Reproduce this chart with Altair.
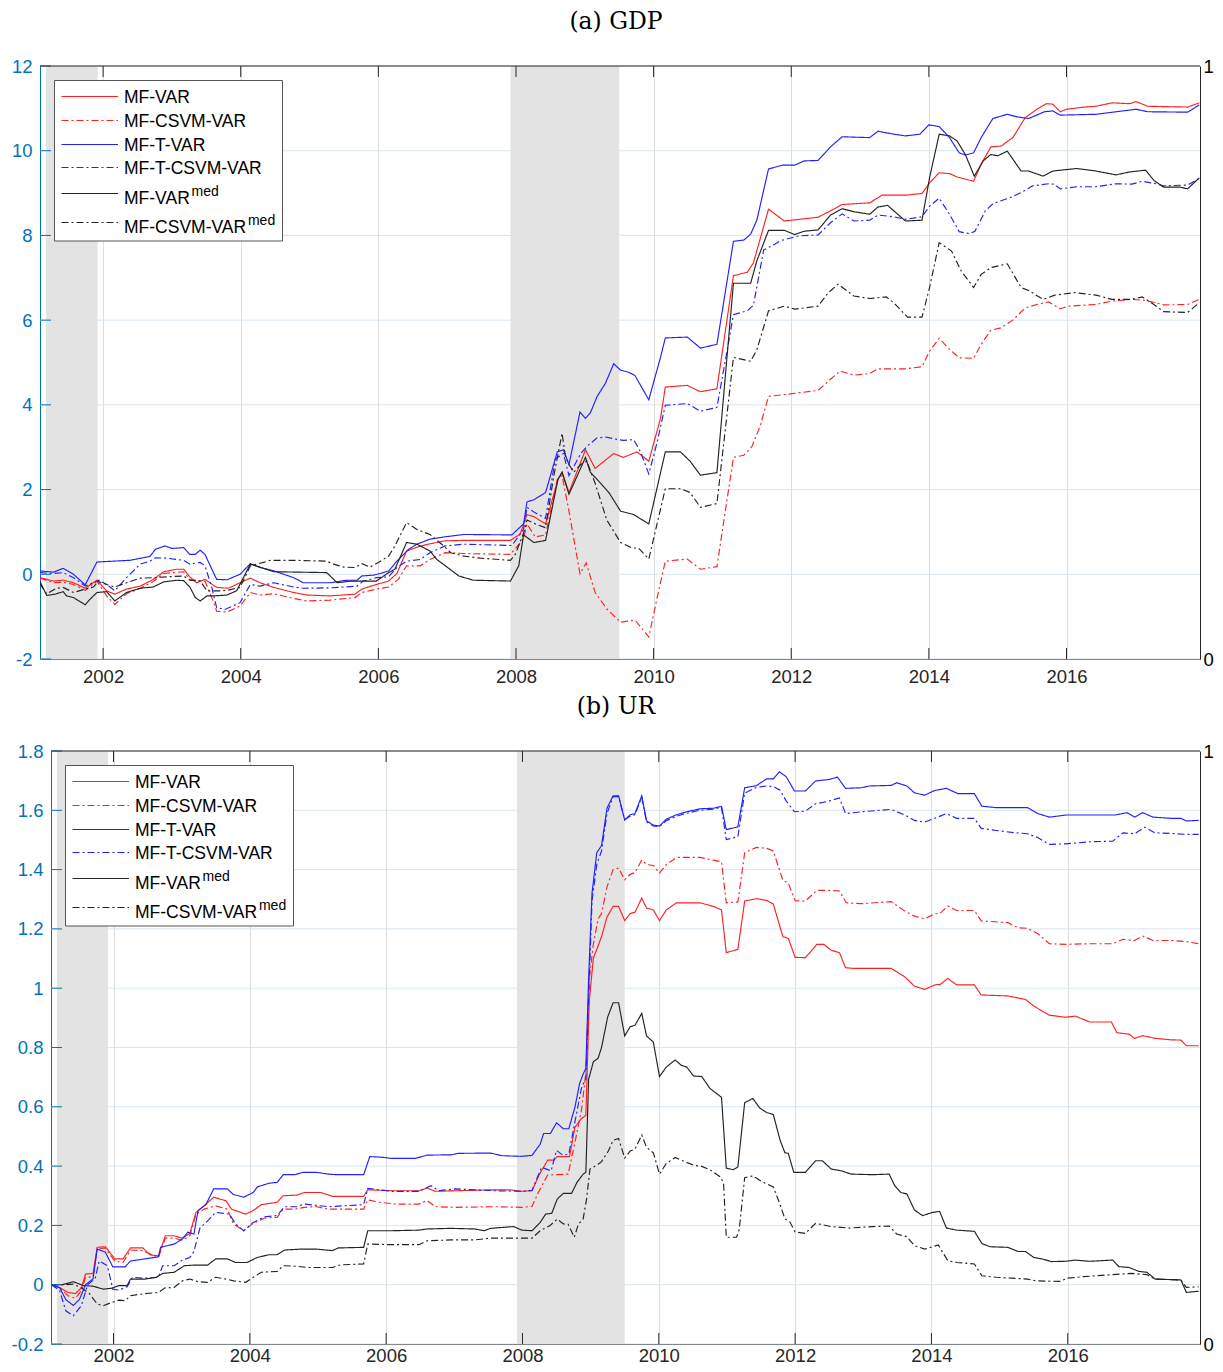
import altair as alt
import pandas as pd

# ---------------- data ----------------
SERIES = ["MF-VAR", "MF-CSVM-VAR", "MF-T-VAR", "MF-T-CSVM-VAR", "MF-VARmed", "MF-CSVM-VARmed"]
LEG_BASE = ["MF-VAR", "MF-CSVM-VAR", "MF-T-VAR", "MF-T-CSVM-VAR", "MF-VAR", "MF-CSVM-VAR"]
LEG_SUP = ["", "", "", "", "med", "med"]
TITLES = ["(a) GDP", "(b) UR"]

YEAR_TICKS = [2002, 2004, 2006, 2008, 2010, 2012, 2014, 2016]
REC_START = [2001.17, 2007.92]
REC_END = [2001.92, 2009.50]
X_DOMAIN = [2001.083, 2017.94]

GDP_TICKS = [-2, 0, 2, 4, 6, 8, 10, 12]
UR_TICKS = [-0.2, 0, 0.2, 0.4, 0.6, 0.8, 1, 1.2, 1.4, 1.6, 1.8]
RIGHT_TICKS = [0, 1]

GDP_MF_VAR = [(2001.08,-0.08),(2001.28,-0.16),(2001.42,-0.14),(2001.57,-0.2),(2001.74,-0.33),(2001.91,-0.14),(2002.05,-0.39),(2002.17,-0.47),(2002.34,-0.35),(2002.54,-0.28),(2002.73,-0.12),(2002.88,0.06),(2003.07,0.12),(2003.17,0.12),(2003.26,-0.06),(2003.36,-0.2),(2003.48,-0.12),(2003.65,-0.31),(2003.82,-0.33),(2003.99,-0.2),(2004.14,-0.09),(2004.28,-0.2),(2004.48,-0.31),(2004.77,-0.43),(2004.96,-0.49),(2005.30,-0.51),(2005.66,-0.47),(2005.76,-0.35),(2005.97,-0.24),(2006.15,-0.16),(2006.27,0.02),(2006.41,0.55),(2006.58,0.65),(2006.75,0.72),(2006.97,0.79),(2007.24,0.80),(2007.92,0.80),(2008.06,0.95),(2008.16,1.41),(2008.26,1.36),(2008.43,1.19),(2008.61,2.24),(2008.67,2.41),(2008.77,1.93),(2009.01,2.94),(2009.15,2.50),(2009.42,2.85),(2009.56,2.76),(2009.76,2.89),(2009.93,2.67),(2010.10,3.68),(2010.17,4.42),(2010.49,4.46),(2010.68,4.31),(2010.92,4.38),(2011.16,7.05),(2011.36,7.13),(2011.45,7.35),(2011.67,8.62),(2011.90,8.34),(2012.39,8.43),(2012.57,8.58),(2012.74,8.73),(2013.14,8.77),(2013.32,8.95),(2013.66,8.95),(2013.90,8.99),(2014.01,9.24),(2014.15,9.48),(2014.30,9.46),(2014.41,9.38),(2014.65,9.28),(2014.76,9.68),(2014.90,10.09),(2015.05,10.11),(2015.22,10.31),(2015.40,10.78),(2015.57,10.98),(2015.71,11.11),(2015.80,11.10),(2015.91,10.92),(2016.00,10.98),(2016.26,11.03),(2016.43,11.05),(2016.66,11.13),(2016.92,11.11),(2017.01,11.16),(2017.18,11.05),(2017.76,11.03),(2017.93,11.13)]

GDP_MF_CSVM_VAR = [(2001.08,-0.09),(2001.28,-0.2),(2001.42,-0.19),(2001.57,-0.24),(2001.74,-0.38),(2001.91,-0.16),(2002.05,-0.51),(2002.17,-0.71),(2002.34,-0.46),(2002.54,-0.33),(2002.73,-0.17),(2002.88,0.02),(2003.17,0.06),(2003.26,-0.12),(2003.41,-0.16),(2003.48,-0.16),(2003.58,-0.55),(2003.65,-0.87),(2003.80,-0.89),(2003.99,-0.75),(2004.14,-0.43),(2004.28,-0.49),(2004.48,-0.46),(2004.77,-0.57),(2004.96,-0.63),(2005.30,-0.61),(2005.66,-0.55),(2005.76,-0.43),(2005.97,-0.35),(2006.15,-0.30),(2006.29,-0.12),(2006.41,0.2),(2006.61,0.2),(2006.75,0.35),(2006.97,0.51),(2007.24,0.49),(2007.92,0.47),(2008.11,0.84),(2008.16,1.19),(2008.28,0.88),(2008.43,0.93),(2008.60,2.24),(2008.67,2.33),(2008.77,1.49),(2008.84,0.84),(2008.93,0.01),(2009.02,0.27),(2009.15,-0.43),(2009.32,-0.82),(2009.52,-1.13),(2009.73,-1.08),(2009.93,-1.48),(2010.05,-0.56),(2010.17,0.31),(2010.49,0.36),(2010.68,0.12),(2010.92,0.18),(2011.16,2.76),(2011.31,2.81),(2011.43,3.02),(2011.55,3.51),(2011.67,4.20),(2011.99,4.26),(2012.39,4.34),(2012.54,4.56),(2012.71,4.80),(2012.91,4.70),(2013.14,4.74),(2013.26,4.85),(2013.66,4.85),(2013.90,4.90),(2014.01,5.27),(2014.15,5.57),(2014.30,5.31),(2014.44,5.11),(2014.65,5.10),(2014.76,5.43),(2014.90,5.76),(2015.05,5.82),(2015.22,6.00),(2015.40,6.29),(2015.57,6.37),(2015.74,6.43),(2015.91,6.27),(2016.03,6.33),(2016.43,6.37),(2016.66,6.45),(2016.95,6.49),(2017.12,6.47),(2017.30,6.41),(2017.41,6.36),(2017.76,6.37),(2017.93,6.49)]

GDP_MF_T_VAR = [(2001.08,0.08),(2001.28,0.05),(2001.42,0.14),(2001.57,0.0),(2001.74,-0.25),(2001.91,0.29),(2002.39,0.33),(2002.68,0.42),(2002.76,0.59),(2002.90,0.67),(2003.00,0.61),(2003.17,0.63),(2003.26,0.47),(2003.34,0.47),(2003.41,0.57),(2003.48,0.47),(2003.65,-0.12),(2003.80,-0.13),(2003.99,0.0),(2004.14,0.25),(2004.28,0.16),(2004.48,0.08),(2004.77,-0.08),(2004.91,-0.20),(2005.30,-0.20),(2005.54,-0.14),(2005.69,-0.14),(2005.76,-0.04),(2005.93,-0.02),(2006.03,0.02),(2006.15,0.08),(2006.27,0.31),(2006.44,0.59),(2006.56,0.71),(2006.75,0.83),(2006.95,0.88),(2007.24,0.94),(2007.94,0.93),(2008.11,1.19),(2008.16,1.71),(2008.26,1.76),(2008.43,1.93),(2008.60,2.89),(2008.69,2.94),(2008.77,2.59),(2008.93,3.83),(2009.01,3.68),(2009.08,3.81),(2009.18,4.20),(2009.30,4.51),(2009.42,4.97),(2009.52,4.82),(2009.64,4.77),(2009.73,4.69),(2009.93,4.12),(2010.10,5.12),(2010.17,5.58),(2010.49,5.60),(2010.68,5.34),(2010.92,5.43),(2011.16,7.86),(2011.31,7.89),(2011.41,8.03),(2011.50,8.36),(2011.67,9.57),(2011.88,9.66),(2012.05,9.66),(2012.19,9.76),(2012.39,9.77),(2012.57,10.09),(2012.74,10.33),(2012.91,10.32),(2013.14,10.31),(2013.26,10.46),(2013.49,10.39),(2013.66,10.35),(2013.87,10.39),(2014.00,10.61),(2014.15,10.57),(2014.30,10.31),(2014.44,9.95),(2014.53,9.90),(2014.65,9.95),(2014.76,10.31),(2014.93,10.76),(2015.14,10.86),(2015.28,10.80),(2015.45,10.76),(2015.68,10.92),(2015.80,10.94),(2015.91,10.84),(2016.43,10.86),(2016.72,10.92),(2017.01,10.98),(2017.18,10.92),(2017.76,10.91),(2017.93,11.08)]

GDP_MF_T_CSVM_VAR = [(2001.08,0.04),(2001.28,0.02),(2001.42,0.04),(2001.57,-0.08),(2001.74,-0.28),(2001.91,-0.16),(2002.05,-0.24),(2002.17,-0.39),(2002.34,-0.08),(2002.54,0.24),(2002.68,0.31),(2002.76,0.39),(2002.93,0.38),(2003.17,0.33),(2003.26,0.24),(2003.41,0.28),(2003.48,0.20),(2003.58,-0.31),(2003.65,-0.79),(2003.77,-0.83),(2003.99,-0.67),(2004.14,-0.24),(2004.28,-0.28),(2004.48,-0.20),(2004.77,-0.30),(2004.91,-0.33),(2005.30,-0.32),(2005.69,-0.28),(2005.78,-0.16),(2005.97,-0.08),(2006.15,-0.06),(2006.27,0.16),(2006.41,0.31),(2006.61,0.35),(2006.75,0.51),(2006.97,0.67),(2007.24,0.71),(2007.94,0.68),(2008.11,1.06),(2008.16,1.58),(2008.28,1.45),(2008.43,1.32),(2008.57,2.72),(2008.69,2.85),(2008.77,2.33),(2008.94,2.85),(2009.03,3.02),(2009.18,3.22),(2009.30,3.24),(2009.42,3.20),(2009.56,3.16),(2009.71,3.18),(2009.81,2.89),(2009.93,2.37),(2010.05,3.11),(2010.17,3.99),(2010.49,4.03),(2010.68,3.85),(2010.92,3.94),(2011.07,5.30),(2011.16,6.13),(2011.36,6.22),(2011.45,6.35),(2011.60,7.66),(2011.70,7.74),(2011.85,7.88),(2012.11,7.99),(2012.39,8.01),(2012.57,8.30),(2012.74,8.51),(2012.91,8.34),(2013.14,8.36),(2013.26,8.48),(2013.49,8.44),(2013.66,8.38),(2013.90,8.44),(2014.01,8.69),(2014.15,8.88),(2014.30,8.50),(2014.44,8.09),(2014.59,8.04),(2014.67,8.10),(2014.82,8.58),(2014.93,8.75),(2015.16,8.88),(2015.34,9.01),(2015.51,9.17),(2015.74,9.22),(2015.82,9.21),(2015.91,9.10),(2016.15,9.15),(2016.43,9.15),(2016.72,9.22),(2016.95,9.21),(2017.10,9.28),(2017.30,9.22),(2017.41,9.17),(2017.76,9.19),(2017.93,9.35)]

GDP_MF_VAR_MED = [(2001.08,-0.16),(2001.18,-0.50),(2001.30,-0.47),(2001.42,-0.41),(2001.47,-0.51),(2001.57,-0.55),(2001.74,-0.72),(2001.81,-0.59),(2001.91,-0.43),(2002.05,-0.41),(2002.17,-0.63),(2002.34,-0.43),(2002.54,-0.33),(2002.73,-0.30),(2002.88,-0.18),(2003.07,-0.14),(2003.17,-0.15),(2003.26,-0.30),(2003.34,-0.55),(2003.41,-0.63),(2003.51,-0.51),(2003.61,-0.51),(2003.80,-0.49),(2003.94,-0.39),(2004.14,0.24),(2004.28,0.17),(2004.48,0.06),(2005.25,0.04),(2005.40,-0.20),(2005.60,-0.16),(2005.97,-0.16),(2006.15,0.04),(2006.24,0.12),(2006.41,0.75),(2006.56,0.71),(2006.75,0.55),(2006.85,0.35),(2007.17,-0.04),(2007.38,-0.14),(2007.92,-0.16),(2008.04,0.20),(2008.11,0.93),(2008.26,0.75),(2008.43,0.80),(2008.61,2.24),(2008.67,2.41),(2008.77,1.89),(2009.01,2.76),(2009.08,2.41),(2009.23,2.15),(2009.35,1.93),(2009.52,1.49),(2009.71,1.41),(2009.93,1.19),(2010.17,2.89),(2010.39,2.89),(2010.53,2.67),(2010.68,2.34),(2010.92,2.40),(2011.16,6.87),(2011.41,6.87),(2011.50,7.40),(2011.67,8.12),(2011.90,8.12),(2012.05,8.02),(2012.19,8.10),(2012.39,8.13),(2012.57,8.48),(2012.74,8.63),(2012.91,8.56),(2013.14,8.50),(2013.26,8.67),(2013.40,8.71),(2013.66,8.34),(2013.90,8.36),(2014.01,9.36),(2014.15,10.39),(2014.30,10.35),(2014.41,10.23),(2014.53,9.91),(2014.66,9.40),(2014.79,9.76),(2014.90,9.91),(2015.00,9.88),(2015.14,9.99),(2015.34,9.52),(2015.45,9.52),(2015.66,9.40),(2015.80,9.52),(2016.03,9.56),(2016.15,9.58),(2016.43,9.52),(2016.72,9.43),(2016.92,9.50),(2017.15,9.54),(2017.27,9.30),(2017.41,9.14),(2017.65,9.14),(2017.76,9.10),(2017.93,9.36)]

GDP_MF_CSVM_VAR_MED = [(2001.08,-0.22),(2001.18,-0.46),(2001.32,-0.33),(2001.42,-0.31),(2001.57,-0.43),(2001.74,-0.35),(2001.86,-0.30),(2001.94,-0.14),(2002.05,-0.24),(2002.17,-0.30),(2002.34,-0.20),(2002.54,-0.09),(2002.73,-0.08),(2002.93,-0.06),(2003.17,-0.04),(2003.26,-0.14),(2003.41,-0.16),(2003.51,-0.39),(2003.70,-0.39),(2003.80,-0.38),(2003.99,-0.31),(2004.14,0.20),(2004.33,0.28),(2004.43,0.33),(2004.77,0.33),(2005.25,0.31),(2005.35,0.24),(2005.50,0.17),(2005.66,0.16),(2005.76,0.25),(2005.88,0.17),(2006.00,0.28),(2006.15,0.43),(2006.24,0.67),(2006.41,1.22),(2006.56,1.06),(2006.75,0.94),(2006.95,0.67),(2007.05,0.51),(2007.24,0.43),(2007.48,0.38),(2007.92,0.33),(2007.99,0.47),(2008.11,0.97),(2008.16,1.28),(2008.28,1.19),(2008.43,1.10),(2008.55,2.33),(2008.67,3.33),(2008.72,2.76),(2008.77,2.59),(2008.84,2.41),(2008.94,2.59),(2009.03,2.67),(2009.15,2.15),(2009.32,1.28),(2009.52,0.75),(2009.69,0.62),(2009.78,0.62),(2009.93,0.36),(2010.17,2.02),(2010.39,2.02),(2010.53,1.93),(2010.68,1.58),(2010.92,1.67),(2011.16,5.12),(2011.41,5.03),(2011.50,5.30),(2011.67,6.22),(2011.90,6.33),(2012.05,6.26),(2012.39,6.33),(2012.54,6.65),(2012.68,6.85),(2012.91,6.57),(2013.14,6.51),(2013.38,6.55),(2013.49,6.41),(2013.69,6.07),(2013.90,6.07),(2014.01,6.77),(2014.15,7.83),(2014.33,7.63),(2014.47,7.16),(2014.65,6.77),(2014.76,7.08),(2014.90,7.24),(2015.14,7.33),(2015.34,6.77),(2015.45,6.70),(2015.66,6.49),(2015.83,6.59),(2016.12,6.65),(2016.43,6.59),(2016.66,6.49),(2016.95,6.49),(2017.10,6.55),(2017.27,6.37),(2017.41,6.20),(2017.76,6.18),(2017.93,6.41)]

UR_MF_VAR = [(2001.09,0.0),(2001.21,-0.01),(2001.33,-0.026),(2001.44,-0.03),(2001.53,-0.01),(2001.59,0.036),(2001.70,0.038),(2001.76,0.126),(2001.88,0.128),(2002.02,0.087),(2002.14,0.087),(2002.25,0.124),(2002.43,0.124),(2002.54,0.10),(2002.66,0.098),(2002.76,0.165),(2002.89,0.165),(2003.01,0.157),(2003.12,0.173),(2003.21,0.244),(2003.33,0.266),(2003.47,0.295),(2003.65,0.283),(2003.73,0.255),(2003.94,0.238),(2004.05,0.25),(2004.17,0.27),(2004.40,0.278),(2004.49,0.30),(2004.69,0.302),(2004.80,0.311),(2005.04,0.311),(2005.21,0.298),(2005.67,0.298),(2005.73,0.32),(2006.08,0.317),(2006.48,0.317),(2006.60,0.326),(2006.72,0.315),(2007.53,0.32),(2007.82,0.32),(2007.99,0.315),(2008.14,0.317),(2008.25,0.373),(2008.37,0.42),(2008.46,0.42),(2008.51,0.432),(2008.69,0.432),(2008.77,0.531),(2008.86,0.559),(2008.93,0.571),(2008.98,0.957),(2009.04,1.101),(2009.09,1.131),(2009.16,1.174),(2009.24,1.24),(2009.33,1.276),(2009.41,1.276),(2009.50,1.228),(2009.58,1.252),(2009.65,1.256),(2009.75,1.304),(2009.82,1.27),(2009.92,1.264),(2010.01,1.228),(2010.11,1.264),(2010.26,1.288),(2010.60,1.288),(2010.80,1.276),(2010.92,1.264),(2010.99,1.12),(2011.16,1.131),(2011.26,1.294),(2011.43,1.302),(2011.58,1.296),(2011.68,1.284),(2011.82,1.174),(2011.90,1.168),(2012.00,1.104),(2012.15,1.103),(2012.32,1.148),(2012.42,1.148),(2012.53,1.128),(2012.65,1.12),(2012.74,1.069),(2012.85,1.067),(2013.41,1.067),(2013.61,1.038),(2013.75,1.007),(2013.90,0.996),(2014.05,1.011),(2014.13,1.013),(2014.24,1.033),(2014.37,1.011),(2014.63,1.011),(2014.73,0.977),(2015.12,0.974),(2015.38,0.962),(2015.50,0.94),(2015.73,0.909),(2015.97,0.902),(2016.11,0.906),(2016.32,0.886),(2016.64,0.886),(2016.72,0.85),(2016.90,0.845),(2016.98,0.831),(2017.10,0.84),(2017.28,0.831),(2017.51,0.826),(2017.66,0.825),(2017.74,0.806),(2017.92,0.806)]

UR_MF_CSVM_VAR = [(2001.09,0.0),(2001.21,-0.01),(2001.33,-0.037),(2001.44,-0.046),(2001.53,-0.02),(2001.59,0.025),(2001.70,0.026),(2001.76,0.12),(2001.88,0.124),(2002.02,0.079),(2002.14,0.075),(2002.25,0.117),(2002.43,0.115),(2002.66,0.092),(2002.76,0.157),(2002.89,0.157),(2003.01,0.15),(2003.12,0.165),(2003.21,0.238),(2003.33,0.255),(2003.50,0.266),(2003.67,0.255),(2003.76,0.205),(2003.91,0.182),(2004.05,0.207),(2004.22,0.225),(2004.40,0.227),(2004.49,0.255),(2004.66,0.255),(2004.80,0.261),(2004.98,0.263),(2005.15,0.255),(2005.67,0.255),(2005.73,0.286),(2005.90,0.278),(2006.14,0.272),(2006.48,0.272),(2006.60,0.284),(2006.72,0.263),(2007.01,0.261),(2007.59,0.263),(2007.99,0.261),(2008.14,0.264),(2008.23,0.31),(2008.37,0.37),(2008.67,0.373),(2008.77,0.48),(2008.87,0.595),(2008.93,0.716),(2008.98,1.029),(2009.04,1.149),(2009.11,1.234),(2009.16,1.252),(2009.24,1.342),(2009.33,1.40),(2009.41,1.405),(2009.50,1.366),(2009.58,1.384),(2009.65,1.39),(2009.75,1.432),(2009.82,1.417),(2009.92,1.414),(2010.01,1.388),(2010.11,1.417),(2010.26,1.441),(2010.60,1.441),(2010.80,1.432),(2010.92,1.426),(2010.99,1.288),(2011.16,1.291),(2011.26,1.457),(2011.43,1.475),(2011.58,1.472),(2011.68,1.463),(2011.82,1.364),(2011.90,1.354),(2012.00,1.295),(2012.15,1.294),(2012.32,1.33),(2012.47,1.33),(2012.65,1.328),(2012.75,1.288),(2012.97,1.285),(2013.41,1.292),(2013.61,1.26),(2013.75,1.243),(2013.90,1.234),(2014.05,1.251),(2014.13,1.253),(2014.24,1.277),(2014.37,1.262),(2014.63,1.262),(2014.73,1.227),(2015.12,1.221),(2015.27,1.204),(2015.41,1.202),(2015.56,1.184),(2015.73,1.15),(2015.97,1.148),(2016.34,1.15),(2016.66,1.15),(2016.81,1.165),(2016.98,1.161),(2017.10,1.176),(2017.25,1.161),(2017.51,1.161),(2017.74,1.157),(2017.92,1.15)]

UR_MF_T_VAR = [(2001.09,0.0),(2001.21,-0.01),(2001.30,-0.05),(2001.41,-0.07),(2001.50,-0.05),(2001.59,0.0),(2001.70,0.02),(2001.76,0.12),(2001.88,0.11),(2001.99,0.06),(2002.17,0.06),(2002.25,0.08),(2002.46,0.087),(2002.66,0.094),(2002.69,0.126),(2002.89,0.137),(2003.01,0.154),(2003.09,0.177),(2003.18,0.171),(2003.24,0.25),(2003.36,0.272),(2003.47,0.323),(2003.67,0.323),(2003.76,0.304),(2003.91,0.295),(2004.05,0.311),(2004.11,0.33),(2004.28,0.342),(2004.40,0.345),(2004.49,0.371),(2004.66,0.371),(2004.78,0.379),(2004.98,0.379),(2005.15,0.373),(2005.27,0.371),(2005.67,0.371),(2005.76,0.432),(2005.93,0.43),(2006.08,0.426),(2006.43,0.426),(2006.60,0.437),(2006.95,0.438),(2007.06,0.443),(2007.53,0.444),(2007.70,0.435),(2007.99,0.433),(2008.14,0.436),(2008.26,0.474),(2008.31,0.51),(2008.41,0.51),(2008.50,0.546),(2008.60,0.526),(2008.68,0.526),(2008.77,0.599),(2008.84,0.68),(2008.89,0.71),(2008.93,0.73),(2008.97,1.03),(2009.02,1.32),(2009.09,1.457),(2009.16,1.481),(2009.24,1.607),(2009.33,1.649),(2009.41,1.649),(2009.50,1.567),(2009.58,1.585),(2009.65,1.589),(2009.75,1.649),(2009.82,1.565),(2009.92,1.55),(2010.01,1.547),(2010.11,1.57),(2010.26,1.585),(2010.41,1.595),(2010.60,1.605),(2010.80,1.607),(2010.92,1.613),(2010.99,1.535),(2011.16,1.544),(2011.26,1.676),(2011.43,1.683),(2011.58,1.706),(2011.68,1.706),(2011.77,1.73),(2011.87,1.713),(2011.99,1.665),(2012.15,1.665),(2012.30,1.699),(2012.50,1.704),(2012.62,1.712),(2012.74,1.674),(2012.97,1.676),(2013.09,1.682),(2013.41,1.684),(2013.49,1.693),(2013.64,1.682),(2013.75,1.659),(2013.90,1.651),(2014.05,1.667),(2014.22,1.674),(2014.39,1.656),(2014.63,1.656),(2014.74,1.614),(2014.95,1.609),(2015.41,1.609),(2015.56,1.589),(2015.73,1.577),(2015.97,1.584),(2016.69,1.584),(2016.87,1.592),(2016.98,1.577),(2017.10,1.592),(2017.25,1.577),(2017.51,1.573),(2017.66,1.573),(2017.74,1.564),(2017.92,1.566)]

UR_MF_T_CSVM_VAR = [(2001.09,0.0),(2001.21,-0.02),(2001.30,-0.088),(2001.41,-0.105),(2001.53,-0.07),(2001.62,0.0),(2001.73,0.02),(2001.79,0.08),(2001.91,0.064),(2001.99,-0.015),(2002.08,-0.018),(2002.20,-0.007),(2002.28,0.025),(2002.43,0.022),(2002.66,0.025),(2002.72,0.064),(2002.89,0.064),(2003.01,0.083),(2003.12,0.092),(2003.18,0.112),(2003.27,0.193),(2003.36,0.21),(2003.50,0.244),(2003.70,0.238),(2003.79,0.205),(2003.91,0.182),(2004.05,0.21),(2004.22,0.229),(2004.40,0.233),(2004.51,0.263),(2004.69,0.263),(2004.80,0.272),(2005.15,0.263),(2005.67,0.27),(2005.73,0.325),(2006.08,0.315),(2006.48,0.315),(2006.66,0.334),(2006.77,0.317),(2007.01,0.323),(2007.59,0.317),(2007.99,0.315),(2008.14,0.318),(2008.28,0.396),(2008.42,0.384),(2008.50,0.453),(2008.59,0.437),(2008.68,0.44),(2008.77,0.55),(2008.87,0.668),(2008.93,0.692),(2008.97,0.957),(2009.02,1.294),(2009.09,1.417),(2009.16,1.463),(2009.24,1.589),(2009.33,1.646),(2009.41,1.646),(2009.50,1.569),(2009.58,1.58),(2009.65,1.585),(2009.75,1.643),(2009.82,1.561),(2009.92,1.547),(2010.01,1.545),(2010.11,1.565),(2010.26,1.58),(2010.41,1.59),(2010.60,1.60),(2010.80,1.604),(2010.92,1.61),(2010.99,1.501),(2011.16,1.511),(2011.26,1.658),(2011.43,1.677),(2011.58,1.682),(2011.68,1.68),(2011.78,1.668),(2011.87,1.631),(2011.99,1.595),(2012.15,1.597),(2012.30,1.622),(2012.50,1.631),(2012.65,1.642),(2012.74,1.589),(2012.97,1.595),(2013.41,1.603),(2013.61,1.584),(2013.75,1.566),(2013.90,1.56),(2014.07,1.575),(2014.22,1.589),(2014.37,1.573),(2014.63,1.573),(2014.73,1.539),(2014.95,1.532),(2015.24,1.524),(2015.41,1.521),(2015.56,1.508),(2015.73,1.485),(2015.97,1.487),(2016.34,1.494),(2016.66,1.496),(2016.81,1.524),(2016.98,1.521),(2017.13,1.543),(2017.28,1.524),(2017.51,1.522),(2017.74,1.519),(2017.92,1.519)]

UR_MF_VAR_MED = [(2001.09,0.0),(2001.25,0.0),(2001.41,0.01),(2001.56,-0.003),(2001.70,-0.005),(2001.85,-0.015),(2001.97,-0.012),(2002.08,-0.003),(2002.20,-0.003),(2002.25,0.019),(2002.46,0.019),(2002.63,0.025),(2002.72,0.038),(2002.89,0.042),(2003.04,0.064),(2003.18,0.066),(2003.38,0.066),(2003.50,0.087),(2003.67,0.087),(2003.79,0.075),(2003.96,0.075),(2004.11,0.092),(2004.28,0.101),(2004.40,0.101),(2004.51,0.117),(2004.75,0.12),(2004.98,0.12),(2005.21,0.115),(2005.30,0.124),(2005.67,0.126),(2005.73,0.182),(2006.08,0.182),(2006.48,0.184),(2006.60,0.188),(2006.95,0.19),(2007.30,0.188),(2007.44,0.182),(2007.53,0.19),(2007.87,0.196),(2007.99,0.184),(2008.14,0.182),(2008.26,0.21),(2008.34,0.238),(2008.43,0.241),(2008.51,0.289),(2008.60,0.308),(2008.72,0.308),(2008.80,0.345),(2008.89,0.373),(2008.93,0.379),(2008.97,0.692),(2009.04,0.752),(2009.11,0.764),(2009.16,0.80),(2009.25,0.903),(2009.33,0.951),(2009.41,0.951),(2009.50,0.839),(2009.58,0.87),(2009.65,0.875),(2009.75,0.915),(2009.82,0.839),(2009.92,0.818),(2010.01,0.702),(2010.11,0.734),(2010.24,0.758),(2010.33,0.74),(2010.41,0.734),(2010.51,0.704),(2010.63,0.702),(2010.75,0.662),(2010.92,0.632),(2010.99,0.393),(2011.09,0.388),(2011.16,0.397),(2011.26,0.614),(2011.38,0.628),(2011.48,0.596),(2011.58,0.581),(2011.68,0.574),(2011.78,0.487),(2011.85,0.445),(2011.90,0.443),(2011.98,0.379),(2012.15,0.379),(2012.30,0.418),(2012.40,0.418),(2012.53,0.39),(2012.68,0.384),(2012.82,0.373),(2013.14,0.371),(2013.38,0.373),(2013.46,0.334),(2013.55,0.311),(2013.64,0.306),(2013.75,0.252),(2013.87,0.233),(2014.02,0.244),(2014.12,0.247),(2014.22,0.191),(2014.37,0.184),(2014.63,0.18),(2014.74,0.139),(2014.86,0.128),(2015.12,0.126),(2015.27,0.112),(2015.38,0.112),(2015.50,0.092),(2015.62,0.087),(2015.76,0.078),(2015.97,0.079),(2016.11,0.083),(2016.32,0.079),(2016.66,0.083),(2016.75,0.061),(2016.90,0.058),(2017.04,0.045),(2017.16,0.042),(2017.28,0.019),(2017.66,0.016),(2017.74,-0.026),(2017.92,-0.022)]

UR_MF_CSVM_VAR_MED = [(2001.09,0.0),(2001.30,0.0),(2001.41,0.002),(2001.53,-0.011),(2001.65,-0.031),(2001.76,-0.065),(2001.85,-0.071),(2001.97,-0.06),(2002.08,-0.052),(2002.17,-0.054),(2002.25,-0.037),(2002.43,-0.031),(2002.66,-0.026),(2002.75,-0.011),(2002.89,-0.009),(2003.01,0.013),(2003.12,0.019),(2003.24,0.01),(2003.38,0.008),(2003.50,0.025),(2003.65,0.019),(2003.76,0.013),(2003.94,0.008),(2004.05,0.025),(2004.17,0.042),(2004.40,0.045),(2004.49,0.064),(2004.69,0.062),(2004.86,0.058),(2005.21,0.058),(2005.33,0.067),(2005.67,0.07),(2005.73,0.137),(2006.08,0.135),(2006.48,0.135),(2006.60,0.148),(2006.95,0.151),(2007.30,0.151),(2007.53,0.157),(2008.14,0.157),(2008.26,0.182),(2008.40,0.199),(2008.51,0.221),(2008.60,0.205),(2008.67,0.204),(2008.76,0.16),(2008.82,0.204),(2008.89,0.222),(2008.94,0.288),(2008.99,0.39),(2009.09,0.403),(2009.16,0.415),(2009.26,0.451),(2009.33,0.487),(2009.41,0.493),(2009.50,0.427),(2009.58,0.451),(2009.65,0.457),(2009.75,0.505),(2009.82,0.463),(2009.92,0.445),(2010.01,0.373),(2010.11,0.409),(2010.24,0.429),(2010.36,0.417),(2010.51,0.403),(2010.63,0.399),(2010.75,0.388),(2010.90,0.364),(2010.95,0.343),(2010.99,0.16),(2011.14,0.16),(2011.18,0.186),(2011.26,0.361),(2011.38,0.367),(2011.51,0.348),(2011.68,0.33),(2011.78,0.27),(2011.85,0.222),(2011.92,0.213),(2012.00,0.178),(2012.15,0.173),(2012.30,0.207),(2012.53,0.196),(2012.79,0.191),(2013.14,0.196),(2013.38,0.198),(2013.49,0.171),(2013.64,0.162),(2013.75,0.132),(2013.90,0.12),(2014.10,0.134),(2014.24,0.081),(2014.37,0.075),(2014.63,0.07),(2014.74,0.03),(2014.95,0.025),(2015.18,0.022),(2015.41,0.019),(2015.53,0.013),(2015.88,0.011),(2016.00,0.022),(2016.23,0.027),(2016.66,0.034),(2016.93,0.038),(2017.16,0.034),(2017.28,0.019),(2017.66,0.016),(2017.74,-0.009),(2017.92,-0.007)]

GDP_SERIES = [GDP_MF_VAR, GDP_MF_CSVM_VAR, GDP_MF_T_VAR, GDP_MF_T_CSVM_VAR, GDP_MF_VAR_MED, GDP_MF_CSVM_VAR_MED]
UR_SERIES = [UR_MF_VAR, UR_MF_CSVM_VAR, UR_MF_T_VAR, UR_MF_T_CSVM_VAR, UR_MF_VAR_MED, UR_MF_CSVM_VAR_MED]

# ---------------- styles ----------------
COLORS = ["#ff2020", "#ff2020", "#2020ff", "#2020ff", "#222222", "#222222"]
DASHES = [[1, 0], [7, 3, 2, 3], [1, 0], [7, 3, 2, 3], [1, 0], [7, 3, 2, 3]]
BLUE_AX = "#0072BD"
DARK = "#262626"
FONT = "Liberation Sans"
SERIF = "DejaVu Serif"
LABEL_SIZE = 18.5
LEG_SIZE = 17.5
SUP_SIZE = 14
TITLE_SIZE = 23.5
TITLE_Y = -44
ARIAL_W = {"M": 833, "F": 611, "-": 333, "V": 667, "A": 667, "R": 722, "C": 722, "S": 667, "T": 611}

PLOT_W = 1160      # both groups share the same origin; panel b starts its frame 11 px to the right
PLOT_H = 593
Y_EXTENT = 32

# legend layout (pixels inside the frame)
LEG_BOX = (14.5, 242.5, 14.5, 175)
LEG_LINE_X = (21.5, 78)
LEG_TEXT_X = 84
LEG_BASELINE = [36.7, 60.7, 85.0, 108.3, 137.7, 166.7]
LEG_LINE_Y = [30.5, 54.5, 78.5, 101.5, 127.5, 156.5]
SUP_RAISE = 7.7


def text_width(s, size):
    return sum(ARIAL_W[c] for c in s) * size / 1000.0


def long_df(series_lists):
    rows = []
    for name, pts in zip(SERIES, series_lists):
        for yr, v in pts:
            rows.append({"year": yr, "value": v, "series": name})
    return pd.DataFrame(rows)


def legend_layout(x0):
    # pixel positions for the hand-made legend, built from the style constants above
    return pd.DataFrame({
        "series": SERIES,
        "label": LEG_BASE,
        "sup": LEG_SUP,
        "ty": LEG_BASELINE,
        "sy": [b - SUP_RAISE for b in LEG_BASELINE],
        "sx": [x0 + LEG_TEXT_X + text_width(b, LEG_SIZE) + 0.5 for b in LEG_BASE],
    })


def legend_samples(x0):
    rows = []
    for name, ly in zip(SERIES, LEG_LINE_Y):
        for k, lx in enumerate(LEG_LINE_X):
            rows.append({"series": name, "k": k, "lx": x0 + lx, "ly": ly})
    return pd.DataFrame(rows)


def panel(series_lists, ydom, yticks, title, x0, x_pad, x_extent):
    width, height = PLOT_W, PLOT_H
    xs = alt.Scale(domain=X_DOMAIN, range=[x0, width], nice=False, zero=False)
    ys = alt.Scale(domain=ydom, nice=False, zero=False)
    color_scale = alt.Scale(domain=SERIES, range=COLORS)
    dash_scale = alt.Scale(domain=SERIES, range=DASHES)
    xaxis = alt.Axis(values=YEAR_TICKS, format="d", title=None, grid=True,
                     gridColor="#dedede", gridWidth=1, ticks=False,
                     domainColor=DARK, domainWidth=1, labelColor=DARK,
                     labelFont=FONT, labelFontSize=LABEL_SIZE, labelPadding=x_pad,
                     labelFlush=False, labelOverlap=False,
                     minExtent=x_extent, maxExtent=x_extent)
    yaxis = alt.Axis(values=yticks, title=None, grid=False, ticks=False,
                     domainColor=BLUE_AX, domainWidth=1, offset=-x0,
                     labelColor=BLUE_AX, labelFont=FONT, labelFontSize=LABEL_SIZE,
                     labelPadding=8, labelExpr="'' + datum.value",
                     labelFlush=False, labelOverlap=False,
                     minExtent=Y_EXTENT, maxExtent=Y_EXTENT)

    ytick_df = pd.DataFrame({"v": yticks})
    hgrid = alt.Chart(ytick_df).mark_rule(color="#d8e6f1", strokeWidth=1).encode(
        y=alt.Y("v:Q", scale=ys, axis=yaxis), x=alt.value(x0), x2=alt.value(width))

    shade = alt.Chart(pd.DataFrame({"s": REC_START, "e": REC_END})).mark_rect(
        color="#e3e3e3").encode(
        x=alt.X("s:Q", scale=xs, axis=xaxis), x2="e:Q")

    lines = alt.Chart(long_df(series_lists)).mark_line(
        strokeWidth=1.15, clip=True).encode(
        x=alt.X("year:Q", scale=xs, axis=xaxis),
        y=alt.Y("value:Q", scale=ys, axis=yaxis),
        color=alt.Color("series:N", scale=color_scale, legend=None),
        strokeDash=alt.StrokeDash("series:N", scale=dash_scale, legend=None),
        order=alt.Order("year:Q"),
    )

    tick_df = pd.DataFrame({"t": YEAR_TICKS})
    ticks_bottom = alt.Chart(tick_df).mark_rule(color=DARK, strokeWidth=1).encode(
        x=alt.X("t:Q", scale=xs, axis=xaxis), y=alt.value(height), y2=alt.value(height - 11))
    ticks_top = alt.Chart(tick_df).mark_rule(color=DARK, strokeWidth=1).encode(
        x=alt.X("t:Q", scale=xs, axis=xaxis), y=alt.value(0), y2=alt.value(11))
    ticks_left = alt.Chart(ytick_df).mark_rule(color=BLUE_AX, strokeWidth=1).encode(
        y=alt.Y("v:Q", scale=ys, axis=yaxis), x=alt.value(x0), x2=alt.value(x0 + 11))

    one_row = pd.DataFrame({"k": [0]})
    top_border = alt.Chart(one_row).mark_rule(color=DARK, strokeWidth=1).encode(
        x=alt.value(x0), x2=alt.value(width), y=alt.value(0))

    title_mark = alt.Chart(pd.DataFrame({"title": [title]})).mark_text(
        align="center", baseline="middle", font=SERIF, fontSize=TITLE_SIZE,
        color="black").encode(x=alt.value(576), y=alt.value(TITLE_Y), text="title:N")

    box = alt.Chart(one_row).mark_rect(
        fill="white", stroke="#555555", strokeWidth=1).encode(
        x=alt.value(x0 + LEG_BOX[0]), x2=alt.value(x0 + LEG_BOX[1]),
        y=alt.value(LEG_BOX[2]), y2=alt.value(LEG_BOX[3]))

    leg_lines = alt.Chart(legend_samples(x0)).mark_line(strokeWidth=1.2).encode(
        x=alt.X("lx:Q", scale=None),
        y=alt.Y("ly:Q", scale=None),
        color=alt.Color("series:N", scale=color_scale, legend=None),
        strokeDash=alt.StrokeDash("series:N", scale=dash_scale, legend=None),
        detail="series:N",
        order=alt.Order("k:Q"))
    leg = legend_layout(x0)
    leg_text = alt.Chart(leg).mark_text(
        align="left", baseline="alphabetic", font=FONT, fontSize=LEG_SIZE, color="black").encode(
        x=alt.value(x0 + LEG_TEXT_X), y=alt.Y("ty:Q", scale=None), text="label:N")
    leg_sup = alt.Chart(leg).transform_filter("datum.sup != ''").mark_text(
        align="left", baseline="alphabetic", font=FONT, fontSize=SUP_SIZE, color="black").encode(
        x=alt.X("sx:Q", scale=None), y=alt.Y("sy:Q", scale=None), text="sup:N")

    inner = alt.layer(hgrid, shade, lines, ticks_bottom, ticks_top, ticks_left,
                      top_border, title_mark, box, leg_lines, leg_text, leg_sup)

    right = alt.Chart(pd.DataFrame({"r": RIGHT_TICKS})).mark_point(opacity=0, size=1).encode(
        x=alt.value(width),
        y=alt.Y("r:Q", scale=alt.Scale(domain=[0, 1], nice=False, zero=False),
                axis=alt.Axis(orient="right", values=RIGHT_TICKS, title=None, grid=False,
                              ticks=False, domainColor=DARK, domainWidth=1, labelColor="black",
                              labelFont=FONT, labelFontSize=LABEL_SIZE, labelPadding=3,
                              labelExpr="'' + datum.value",
                              labelFlush=False, labelOverlap=False,
                              minExtent=14, maxExtent=14)))

    return alt.layer(inner, right).resolve_scale(y="independent").properties(
        width=width, height=height)


pa = panel(GDP_SERIES, [-2, 12], GDP_TICKS, TITLES[0], 0, 8, 26.5)
pb = panel(UR_SERIES, [-0.2, 1.8], UR_TICKS, TITLES[1], 11, 2, 17)

chart = alt.concat(pa, pb, columns=1, spacing=9).properties(
    padding={"left": 0, "right": 0, "top": 2, "bottom": 0}).configure_view(
    stroke="transparent", strokeWidth=0)

chart.save("out.html", embed_options={"renderer": "svg", "actions": False})
